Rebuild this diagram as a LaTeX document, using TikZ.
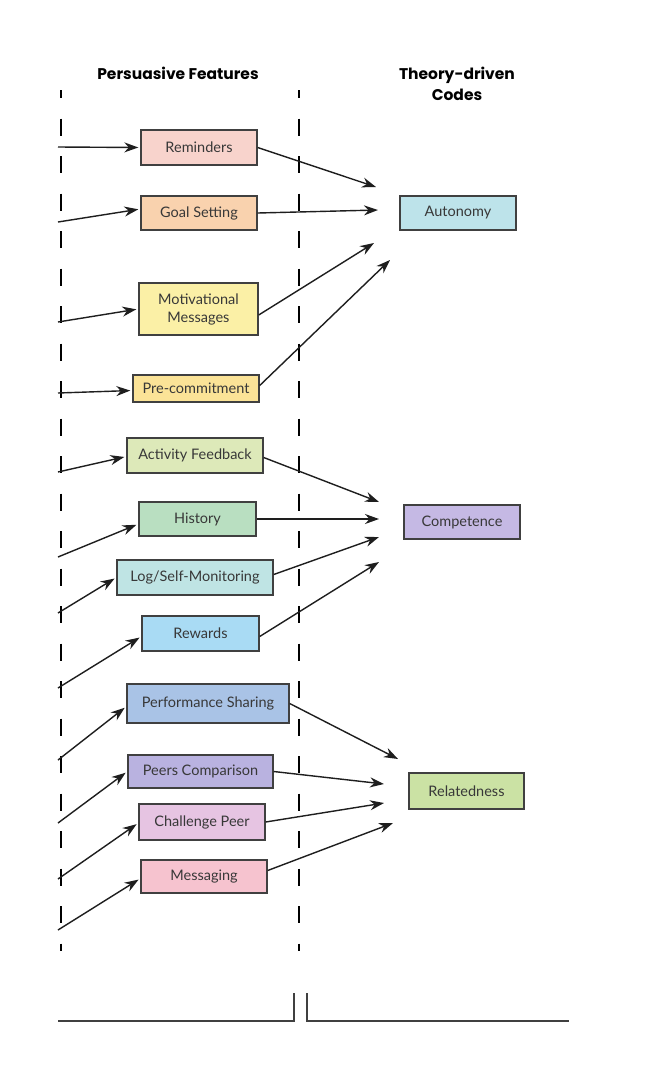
\documentclass[tikz,border=0pt]{standalone}
\usepackage{fontspec}
\setmainfont{Lato}
\newfontfamily\hdfont{Poppins}
\usetikzlibrary{arrows.meta}
\definecolor{cRem}{HTML}{F8D3CC}
\definecolor{cGoal}{HTML}{F9D2AE}
\definecolor{cMot}{HTML}{FBF0A6}
\definecolor{cPre}{HTML}{FBE397}
\definecolor{cAct}{HTML}{DDE9B9}
\definecolor{cHist}{HTML}{B9DFC1}
\definecolor{cLog}{HTML}{BFE4E4}
\definecolor{cRew}{HTML}{A9DBF4}
\definecolor{cPerf}{HTML}{A9C3E6}
\definecolor{cPeer}{HTML}{B9B2E0}
\definecolor{cChal}{HTML}{E6C4E2}
\definecolor{cMsg}{HTML}{F6C3CF}
\definecolor{cAut}{HTML}{BDE3EA}
\definecolor{cComp}{HTML}{C5B9E4}
\definecolor{cRel}{HTML}{CBE2A4}
\definecolor{edge}{HTML}{404040}
\definecolor{txt}{HTML}{383838}
\definecolor{lnk}{HTML}{1E1E1E}
\tikzset{
  fbox/.style={draw=edge, line width=1.4pt, inner sep=0pt, text=txt,
    font=\fontsize{14.5}{18}\selectfont, align=center},
  arr/.style={draw=lnk, line width=1.4pt, -{Stealth[length=14pt,width=10pt]}},
  inarr/.style={arr, shorten >=2pt},
  guide/.style={draw=black, line width=1.2pt, dash pattern=on 17pt off 20.5pt, dash phase=9pt},
  bracket/.style={draw=edge, line width=1.5pt},
  hdr/.style={font=\hdfont\bfseries\fontsize{15.5}{21}\selectfont, text=black, align=center}
}
\begin{document}
\begin{tikzpicture}[x=1pt,y=-1pt]
\useasboundingbox[fill=white] (0,0) rectangle (652,1080);

% headers
\node[hdr] (h1) at (178,73) {Persuasive Features};
\node[hdr] (h2) at (457,84) {Theory-driven\\Codes};

% dashed guides
\coordinate (g1a) at (61,90);  \coordinate (g1b) at (61,951);
\coordinate (g2a) at (299,90); \coordinate (g2b) at (299,951);
\draw[guide] (g1a) -- (g1b);
\draw[guide] (g2a) -- (g2b);

% feature boxes
\node[fbox, fill=cRem,  minimum width=116pt, minimum height=35pt] (rem)  at (199,147.5) {Reminders};
\node[fbox, fill=cGoal, minimum width=116pt, minimum height=34pt] (goal) at (199,213) {Goal Setting};
\node[fbox, fill=cMot,  minimum width=119pt, minimum height=52pt] (mot)  at (198.5,309) {Motivational\\Messages};
\node[fbox, fill=cPre,  minimum width=126pt, minimum height=27pt] (pre)  at (196,388.5) {Pre-commitment};
\node[fbox, fill=cAct,  minimum width=136pt, minimum height=35pt] (act)  at (195,455.5) {Activity Feedback};
\node[fbox, fill=cHist, minimum width=117pt, minimum height=34pt] (hist) at (197.5,519) {History};
\node[fbox, fill=cLog,  minimum width=156pt, minimum height=35pt] (log)  at (195,577.5) {Log/Self-Monitoring};
\node[fbox, fill=cRew,  minimum width=117pt, minimum height=35pt] (rew)  at (200.5,633.5) {Rewards};
\node[fbox, fill=cPerf, minimum width=162pt, minimum height=39pt] (perf) at (208,703.5) {Performance Sharing};
\node[fbox, fill=cPeer, minimum width=145pt, minimum height=33pt] (peer) at (200.5,771.5) {Peers Comparison};
\node[fbox, fill=cChal, minimum width=126pt, minimum height=36pt] (chal) at (202,822) {Challenge Peer};
\node[fbox, fill=cMsg,  minimum width=126pt, minimum height=33pt] (msg)  at (204,876.5) {Messaging};

% code boxes
\node[fbox, fill=cAut,  minimum width=116pt, minimum height=34pt] (aut)  at (458,213) {Autonomy};
\node[fbox, fill=cComp, minimum width=116pt, minimum height=34pt] (comp) at (462,522) {Competence};
\node[fbox, fill=cRel,  minimum width=115pt, minimum height=36pt] (rel)  at (466.5,791) {Relatedness};

% incoming arrows (left)
\coordinate (l1) at (58,147);  \coordinate (l2) at (58,222);
\coordinate (l3) at (58,322);  \coordinate (l4) at (58,393);
\coordinate (l5) at (58,472);  \coordinate (l6) at (58,557);
\coordinate (l7) at (58,613);  \coordinate (l8) at (58,688);
\coordinate (l9) at (58,760);  \coordinate (l10) at (58,823);
\coordinate (l11) at (58,879); \coordinate (l12) at (58,930);
\draw[inarr] (l1) -- (rem.west);
\draw[inarr] (l2) -- ([yshift=4pt]goal.west);
\draw[inarr] (l3) -- (mot.west);
\draw[inarr] (l4) -- ([yshift=-2pt]pre.west);
\draw[inarr] (l5) -- ([yshift=-1pt]act.west);
\draw[inarr] (l6) -- ([yshift=-5pt]hist.west);
\draw[inarr] (l7) -- (log.west);
\draw[inarr] (l8) -- ([yshift=-3pt]rew.west);
\draw[inarr] (l9) -- ([yshift=-3pt]perf.west);
\draw[inarr] (l10) -- (peer.west);
\draw[inarr] (l11) -- ([yshift=-1pt]chal.west);
\draw[inarr] (l12) -- ([yshift=-2pt]msg.west);

% outgoing arrows to Autonomy
\coordinate (ta1) at (376,187); \coordinate (ta2) at (378,210);
\coordinate (ta3) at (374,243); \coordinate (ta4) at (390,260);
\draw[arr] (rem.east) -- (ta1);
\draw[arr] (goal.east) -- (ta2);
\draw[arr] ([yshift=-6pt]mot.east) -- (ta3);
\draw[arr] ([yshift=3pt]pre.east) -- (ta4);

% to Competence
\coordinate (tc1) at (379,502); \coordinate (tc2) at (379,519);
\coordinate (tc3) at (379,537); \coordinate (tc4) at (379,562);
\draw[arr] ([yshift=-2pt]act.east) -- (tc1);
\draw[arr] (hist.east) -- (tc2);
\draw[arr] ([yshift=3pt]log.east) -- (tc3);
\draw[arr] ([yshift=-3pt]rew.east) -- (tc4);

% to Relatedness
\coordinate (tr1) at (398,759); \coordinate (tr2) at (384,784);
\coordinate (tr3) at (384,803); \coordinate (tr4) at (393,823);
\draw[arr] (perf.east) -- (tr1);
\draw[arr] (peer.east) -- (tr2);
\draw[arr] (chal.east) -- (tr3);
\draw[arr] ([yshift=6pt]msg.east) -- (tr4);

% bottom brackets
\coordinate (b1) at (58,1021);  \coordinate (b2) at (294,1021); \coordinate (b3) at (294,993);
\coordinate (b4) at (307,993);  \coordinate (b5) at (307,1021); \coordinate (b6) at (569,1021);
\draw[bracket] (b1) -- (b2) -- (b3);
\draw[bracket] (b4) -- (b5) -- (b6);
\end{tikzpicture}
\end{document}
